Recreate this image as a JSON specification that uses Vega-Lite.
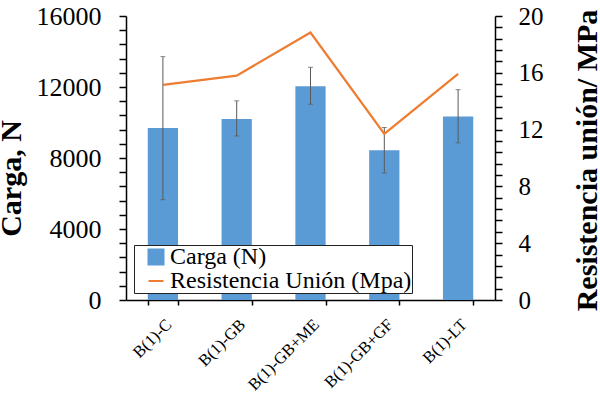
{
  "$schema": "https://vega.github.io/schema/vega-lite/v6.json",
  "width": 369,
  "height": 284,
  "autosize": {"type": "none"},
  "padding": {"left": 126, "top": 16, "right": 105, "bottom": 93},
  "background": "white",
  "config": {
    "view": {"stroke": null},
    "font": "Liberation Serif",
    "axis": {"labelFont": "Liberation Serif", "titleFont": "Liberation Serif", "labelColor": "black", "titleColor": "black", "domainColor": "black", "tickColor": "black", "grid": false, "tickWidth": 1.5, "domainWidth": 1.5}
  },
  "data": {
    "values": [
      {"muestra": "B(1)-C", "carga": 9690, "low": 5650, "high": 13710, "resistencia": 15.15},
      {"muestra": "B(1)-GB", "carga": 10200, "low": 9240, "high": 11220, "resistencia": 15.8},
      {"muestra": "B(1)-GB+ME", "carga": 12040, "low": 11030, "high": 13110, "resistencia": 18.84},
      {"muestra": "B(1)-GB+GF", "carga": 8440, "low": 7160, "high": 9720, "resistencia": 11.7},
      {"muestra": "B(1)-LT", "carga": 10340, "low": 8850, "high": 11850, "resistencia": 15.93}
    ]
  },
  "encoding": {
    "x": {
      "field": "muestra",
      "type": "nominal",
      "sort": null,
      "scale": {"paddingInner": 0.59, "paddingOuter": 0.295},
      "axis": {
        "title": null,
        "labelFont": "Liberation Serif",
        "labelAngle": -45,
        "labelAlign": "right",
        "labelBaseline": "top",
        "labelFontSize": 16.5,
        "labelPadding": 11,
        "tickBand": "extent",
        "tickSize": 5,
        "tickWidth": 1.5,
        "domainWidth": 1.5
      }
    }
  },
  "layer": [
    {
      "mark": {"type": "bar"},
      "encoding": {
        "y": {
          "field": "carga", "type": "quantitative",
          "scale": {"domain": [0, 16000], "nice": false},
          "axis": {
            "orient": "left",
            "title": "Carga, N",
            "titleFont": "Liberation Serif",
            "titleFontSize": 30,
            "titleFontWeight": "bold",
            "titleAngle": 270,
            "titleBaseline": "alphabetic",
            "titleAlign": "center",
            "titleX": -106,
            "titleY": 162,
            "values": [0, 800, 1600, 2400, 3200, 4000, 4800, 5600, 6400, 7200, 8000, 8800, 9600, 10400, 11200, 12000, 12800, 13600, 14400, 15200, 16000],
            "labelExpr": "datum.value % 4000 === 0 ? format(datum.value, 'd') : ''",
            "labelOverlap": false,
            "labelFont": "Liberation Serif",
            "labelFontSize": 26,
            "labelPadding": 18,
            "tickSize": 7,
            "tickWidth": 1.5,
            "domainWidth": 1.5
          }
        },
        "color": {
          "datum": "Carga (N)",
          "scale": {"domain": ["Carga (N)", "Resistencia Unión (Mpa)"], "range": ["#5B9BD5", "#ED7D31"]},
          "legend": {
            "orient": "none",
            "legendX": 8,
            "legendY": 229,
            "title": null,
            "fillColor": "white",
            "strokeColor": "#222222",
            "padding": 0,
            "symbolOffset": 10,
            "labelOffset": 2,
            "labelFont": "Liberation Serif",
            "labelFontSize": 24,
            "labelColor": "black",
            "labelLimit": 0,
            "symbolSize": 225,
            "rowPadding": -10,
            "labelExpr": "datum.label + '  '",
            "encode": {
              "symbols": {
                "update": {
                  "shape": {"signal": "datum.value === 'Carga (N)' ? 'square' : 'stroke'"},
                  "fill": {"signal": "datum.value === 'Carga (N)' ? '#5B9BD5' : 'transparent'"},
                  "stroke": {"signal": "datum.value === 'Carga (N)' ? 'transparent' : '#ED7D31'"},
                  "strokeWidth": {"value": 2},
                  "opacity": {"value": 1}
                }
              }
            }
          }
        }
      }
    },
    {
      "mark": {"type": "rule", "color": "#595959", "strokeWidth": 1},
      "encoding": {
        "y": {"field": "low", "type": "quantitative", "scale": {"domain": [0, 16000], "nice": false}, "axis": null},
        "y2": {"field": "high"}
      }
    },
    {
      "mark": {"type": "tick", "color": "#595959", "size": 5, "thickness": 1},
      "encoding": {
        "y": {"field": "low", "type": "quantitative", "scale": {"domain": [0, 16000], "nice": false}, "axis": null}
      }
    },
    {
      "mark": {"type": "tick", "color": "#595959", "size": 5, "thickness": 1},
      "encoding": {
        "y": {"field": "high", "type": "quantitative", "scale": {"domain": [0, 16000], "nice": false}, "axis": null}
      }
    },
    {
      "mark": {"type": "line", "strokeWidth": 2.25},
      "encoding": {
        "y": {
          "field": "resistencia", "type": "quantitative",
          "scale": {"domain": [0, 20], "nice": false},
          "axis": {
            "orient": "right",
            "title": "Resistencia unión/ MPa",
            "titleFont": "Liberation Serif",
            "titleFontSize": 30,
            "titleFontWeight": "bold",
            "titleAngle": 270,
            "titleBaseline": "alphabetic",
            "titleAlign": "center",
            "titleX": 101,
            "titleY": 144,
            "values": [0, 0.8, 1.6, 2.4, 3.2, 4, 4.8, 5.6, 6.4, 7.2, 8, 8.8, 9.6, 10.4, 11.2, 12, 12.8, 13.6, 14.4, 15.2, 16, 16.8, 17.6, 18.4, 19.2, 20],
            "labelExpr": "datum.value % 4 === 0 ? format(datum.value, 'd') : ''",
            "labelOverlap": false,
            "labelFont": "Liberation Serif",
            "labelFontSize": 25,
            "labelPadding": 16,
            "tickSize": 7,
            "tickWidth": 1.5,
            "domainWidth": 1.5
          }
        },
        "color": {"datum": "Resistencia Unión (Mpa)"}
      }
    }
  ],
  "resolve": {"scale": {"y": "independent"}, "axis": {"y": "independent"}}
}
